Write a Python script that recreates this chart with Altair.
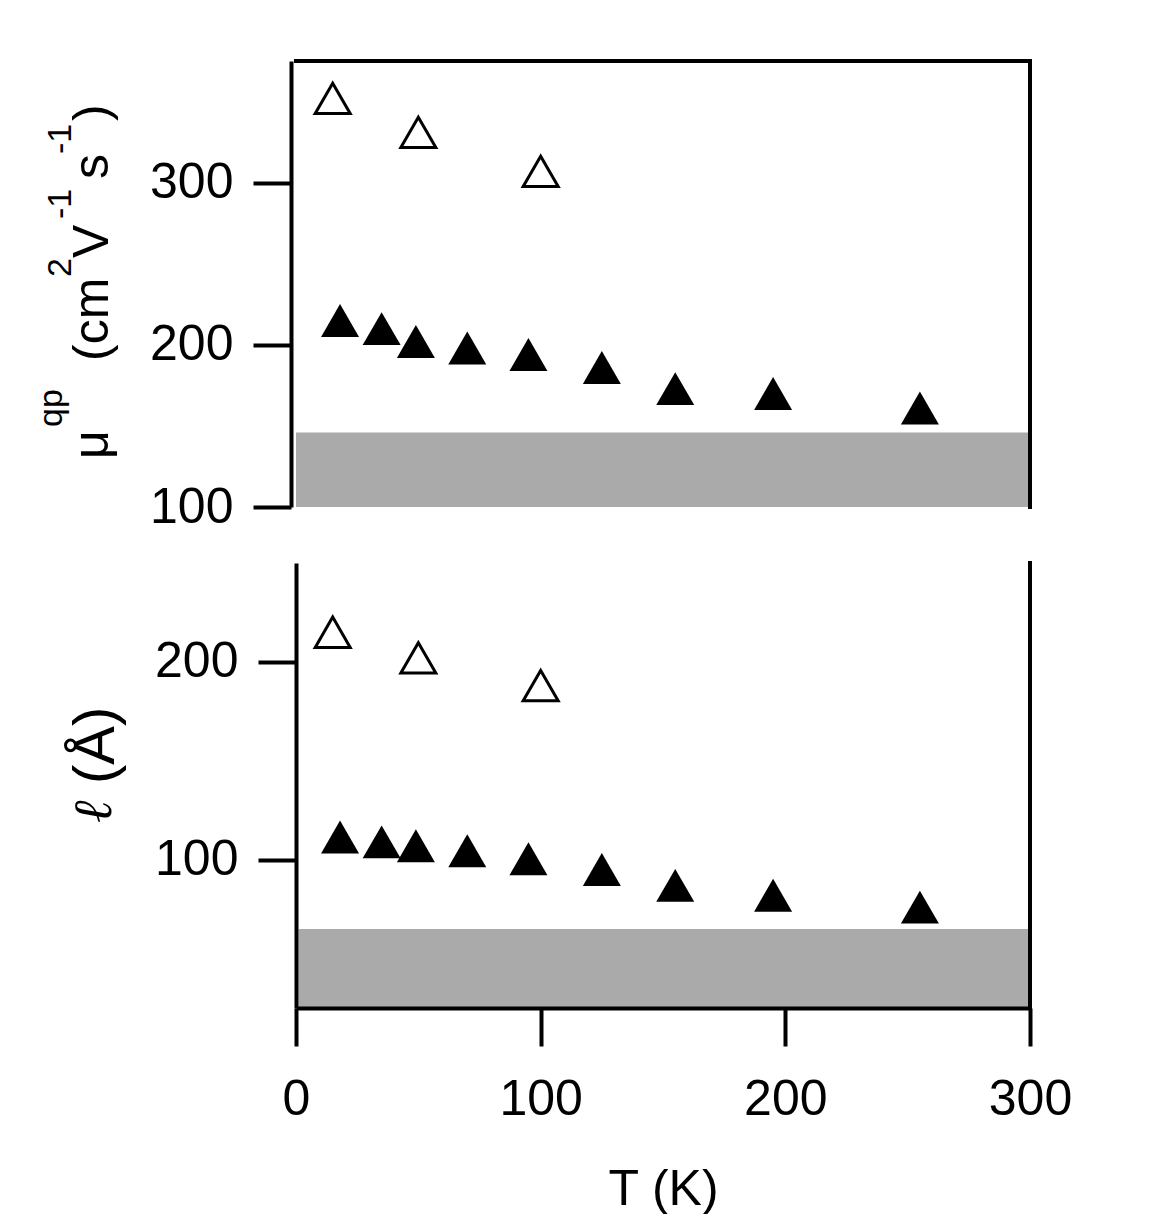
import altair as alt
import pandas as pd

# ---------------- data ----------------
T_filled = [18, 35, 49, 70, 95, 125, 155, 195, 255]
mu_filled = [215, 210, 202, 198, 194, 186, 173, 170, 161]
l_filled = [111.5, 109, 107, 104.5, 100.5, 95, 87, 82, 76]

T_open = [15, 50, 100]
mu_open = [352, 331, 307]
l_open = [215, 202, 188]

band_T_top = [0, 300]
band_T_bottom = [1, 300]
band_mu = [100, 146]
band_l = [25, 65]

x_ticks = [0, 100, 200, 300]
mu_ticks = [100, 200, 300]
l_ticks = [100, 200]
x_domain = [0, 300]
mu_domain = [100, 375]
l_domain = [25, 250]

# ---------------- layout ----------------
W = 734
H_TOP = 446
H_BOT = 445
FONT = "Liberation Sans"

one = pd.DataFrame({"a": [0]})

filled_top = pd.DataFrame({"T": T_filled, "v": mu_filled})
open_top = pd.DataFrame({"T": T_open, "v": mu_open})
filled_bot = pd.DataFrame({"T": T_filled, "v": l_filled})
open_bot = pd.DataFrame({"T": T_open, "v": l_open})
band_top = pd.DataFrame({"x0": [band_T_top[0]], "x1": [band_T_top[1]],
                         "y0": [band_mu[0]], "y1": [band_mu[1]]})
band_bot = pd.DataFrame({"x0": [band_T_bottom[0]], "x1": [band_T_bottom[1]],
                         "y0": [band_l[0]], "y1": [band_l[1]]})

x_scale = alt.Scale(domain=x_domain, nice=False, zero=False)
axis_x = alt.Axis(values=x_ticks, title="T (K)", tickSize=38, tickWidth=4,
                  domainWidth=4, labelFontSize=50, labelPadding=28,
                  titleFontSize=50, titlePadding=40, grid=False, zindex=1,
                  format="d", labelFlush=False)
axis_mu = alt.Axis(values=mu_ticks, title=None, tickSize=38, tickWidth=4,
                   domainWidth=4, labelFontSize=50, labelPadding=20, offset=5,
                   grid=False, zindex=1, format="d")
axis_l = alt.Axis(values=l_ticks, title=None, tickSize=38, tickWidth=4,
                  domainWidth=4, labelFontSize=50, labelPadding=20,
                  grid=False, zindex=1, format="d")


def X(field, axis):
    return alt.X(field, type="quantitative", scale=x_scale, axis=axis)


def Y(field, domain, axis):
    return alt.Y(field, type="quantitative",
                 scale=alt.Scale(domain=domain, nice=False, zero=False), axis=axis)


def txt(s, x, y, size, style="normal", font=FONT):
    return alt.Chart(one).mark_text(
        text=s, angle=270, align="left", baseline="alphabetic",
        fontSize=size, font=font, fontStyle=style, color="black"
    ).encode(x=alt.value(x), y=alt.value(y))


def panel(band_df, filled_df, open_df, domain, yaxis, xaxis, height, frame_top, titles):
    rect = alt.Chart(band_df).mark_rect(color="#aaaaaa").encode(
        x=X("x0", xaxis), x2="x1",
        y=Y("y0", domain, yaxis), y2="y1")
    layers = [rect]
    if frame_top:
        layers.append(alt.Chart(one).mark_rule(color="black", strokeWidth=4, strokeCap="square").encode(
            x=alt.value(0), x2=alt.value(W), y=alt.value(0)))
    layers.append(alt.Chart(one).mark_rule(color="black", strokeWidth=4, strokeCap="square").encode(
        x=alt.value(W), y=alt.value(0), y2=alt.value(height)))
    opn = alt.Chart(open_df).mark_point(
        shape="triangle-up", filled=False, stroke="black", strokeWidth=3,
        size=1225, opacity=1).encode(x=X("T", xaxis), y=Y("v", domain, yaxis))
    fil = alt.Chart(filled_df).mark_point(
        shape="triangle-up", filled=True, color="black", size=1444,
        opacity=1).encode(x=X("T", xaxis), y=Y("v", domain, yaxis))
    layers += [opn, fil] + titles
    return alt.layer(*layers).properties(width=W, height=height)


top_titles = [
    txt("μ", -188, 398, 50),
    txt("qp", -234, 366, 34),
    txt("(cm", -188, 300, 50),
    txt("2", -225, 216, 34),
    txt("V", -188, 197, 50),
    txt("-1", -225, 158, 34),
    txt("s", -188, 118, 50),
    txt("-1", -225, 93, 34),
    txt(")", -188, 60, 50),
]
bot_titles = [
    txt("ℓ", -185, 260, 54, style="italic", font="Liberation Serif"),
    txt("(Å)", -182, 221, 58),
]

top = panel(band_top, filled_top, open_top, mu_domain, axis_mu, None, H_TOP, True, top_titles)
bottom = panel(band_bot, filled_bot, open_bot, l_domain, axis_l, axis_x, H_BOT, False, bot_titles)

chart = alt.vconcat(top, bottom, spacing=56, bounds="flush").properties(
    padding={"left": 27, "top": 50, "right": 20, "bottom": 0}
).configure_axis(
    domainColor="black", tickColor="black", labelColor="black",
    labelFont=FONT, titleFont=FONT, titleColor="black", titleFontWeight="normal"
).configure_view(stroke=None)

chart.save("out.html", embed_options={"renderer": "svg", "actions": False})
